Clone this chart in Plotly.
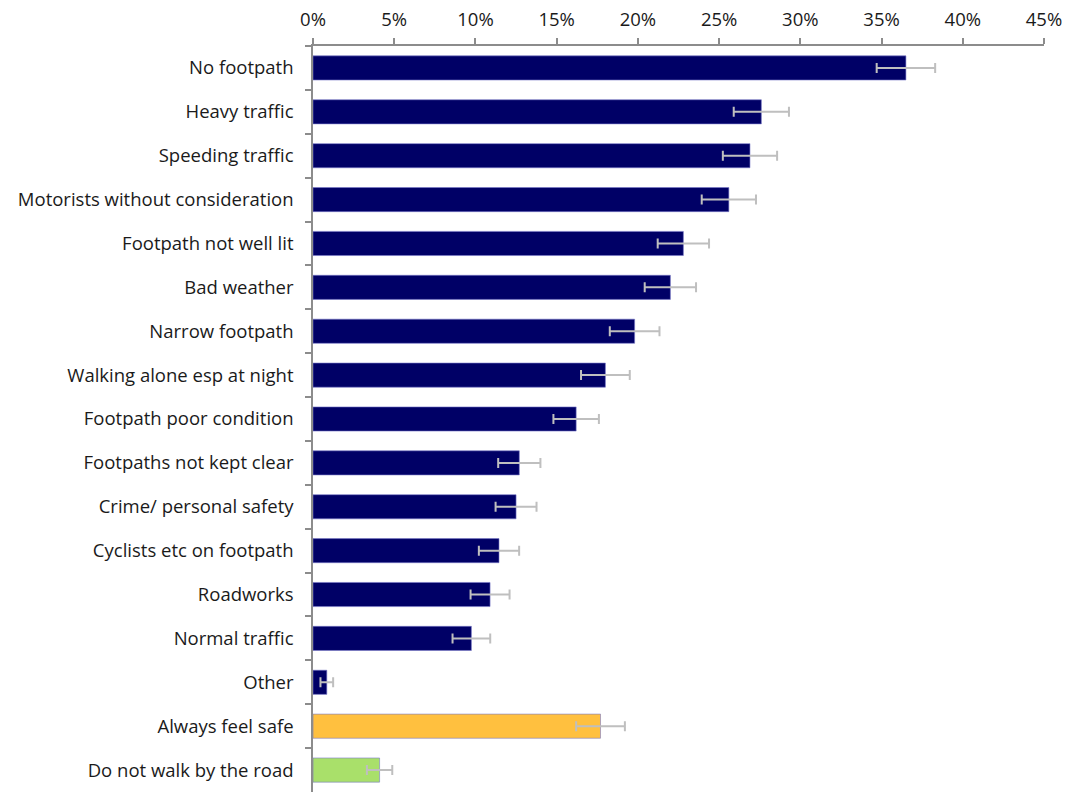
import plotly.graph_objects as go

# Reasons given for feeling unsafe walking by the road (% of respondents)
categories = [
    "No footpath",
    "Heavy traffic",
    "Speeding traffic",
    "Motorists without consideration",
    "Footpath not well lit",
    "Bad weather",
    "Narrow footpath",
    "Walking alone esp at night",
    "Footpath poor condition",
    "Footpaths not kept clear",
    "Crime/ personal safety",
    "Cyclists etc on footpath",
    "Roadworks",
    "Normal traffic",
    "Other",
    "Always feel safe",
    "Do not walk by the road",
]
values = [36.5, 27.6, 26.9, 25.6, 22.8, 22.0, 19.8, 18.0, 16.2, 12.7, 12.5,
          11.45, 10.9, 9.75, 0.85, 17.7, 4.1]
errors = [1.8, 1.7, 1.67, 1.67, 1.58, 1.58, 1.53, 1.5, 1.4, 1.3, 1.26,
          1.24, 1.2, 1.16, 0.39, 1.5, 0.78]
tick_values = [0, 5, 10, 15, 20, 25, 30, 35, 40, 45]

NAVY = "#000066"
bar_colors = [NAVY] * 15 + ["#FFC03F", "#A9E06A"]

FONT = "Open Sans, Lato, sans-serif"
FONT_SIZE = 18.5

fig = go.Figure(
    go.Bar(
        x=values,
        y=categories,
        orientation="h",
        marker=dict(color=bar_colors, line=dict(color="rgba(120,120,200,0.6)", width=1)),
        error_x=dict(type="data", array=errors, symmetric=True,
                     color="#BFBFBF", thickness=2, width=5),
        showlegend=False,
        hoverinfo="x+y",
    )
)

fig.update_layout(
    width=1070,
    height=792,
    margin=dict(l=313, r=26, t=46, b=0),
    paper_bgcolor="white",
    plot_bgcolor="white",
    bargap=0.45,
    font=dict(family=FONT, size=FONT_SIZE, color="#1a1a1a"),
)

fig.update_xaxes(
    side="top",
    range=[0, 45],
    tickvals=tick_values,
    ticktext=[f"{v}%" for v in tick_values],
    showgrid=False,
    zeroline=False,
    showline=True,
    linecolor="#8C8C8C",
    linewidth=1.5,
    ticks="outside",
    ticklen=6,
    tickcolor="#8C8C8C",
    tickwidth=1.5,
    ticklabelstandoff=5,
    tickfont=dict(family=FONT, size=FONT_SIZE, color="#1a1a1a"),
)

fig.update_yaxes(
    categoryorder="array",
    categoryarray=categories,
    autorange="reversed",
    showgrid=False,
    showline=True,
    linecolor="#8C8C8C",
    linewidth=1.5,
    ticks="outside",
    tickson="boundaries",
    ticklen=6,
    tickcolor="#8C8C8C",
    tickwidth=1.5,
    ticklabelstandoff=14,
    tickfont=dict(family=FONT, size=FONT_SIZE, color="#1a1a1a"),
)

fig.write_html("out.html")
